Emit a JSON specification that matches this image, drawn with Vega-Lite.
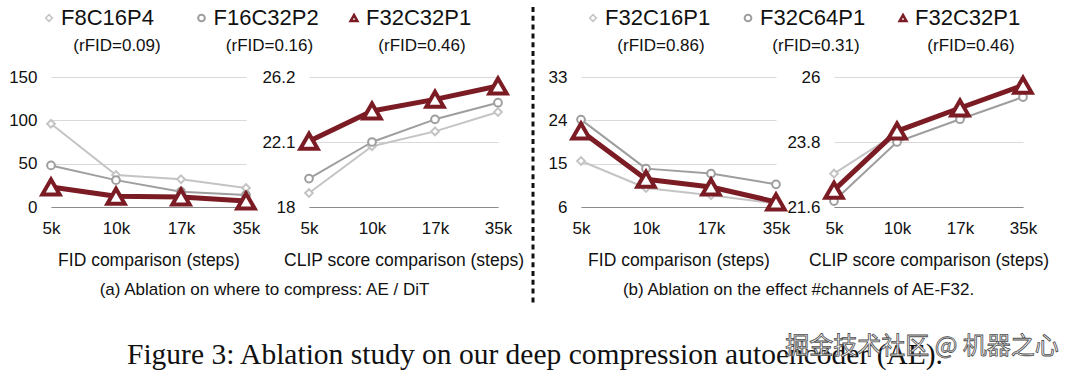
{
  "$schema": "https://vega.github.io/schema/vega-lite/v6.json",
  "background": "white",
  "padding": {"left": 8, "top": 0, "right": 0, "bottom": 0},
  "bounds": "flush",
  "align": "each",
  "columns": 5,
  "spacing": 0,
  "datasets": {
    "left": [
      {"step": "5k", "series": "F8C16P4", "fid": 96, "clip": 18.88},
      {"step": "10k", "series": "F8C16P4", "fid": 37, "clip": 21.83},
      {"step": "17k", "series": "F8C16P4", "fid": 32, "clip": 22.77},
      {"step": "35k", "series": "F8C16P4", "fid": 22, "clip": 23.99},
      {"step": "5k", "series": "F16C32P2", "fid": 48, "clip": 19.79},
      {"step": "10k", "series": "F16C32P2", "fid": 31, "clip": 22.1},
      {"step": "17k", "series": "F16C32P2", "fid": 17.7, "clip": 23.53},
      {"step": "35k", "series": "F16C32P2", "fid": 13.8, "clip": 24.58},
      {"step": "5k", "series": "F32C32P1", "fid": 23, "clip": 22.14},
      {"step": "10k", "series": "F32C32P1", "fid": 12.5, "clip": 24.06},
      {"step": "17k", "series": "F32C32P1", "fid": 11.5, "clip": 24.79},
      {"step": "35k", "series": "F32C32P1", "fid": 7, "clip": 25.63}
    ],
    "right": [
      {"step": "5k", "series": "F32C16P1", "fid": 15.55, "clip": 22.73},
      {"step": "10k", "series": "F32C16P1", "fid": 9.95, "clip": 24.1},
      {"step": "17k", "series": "F32C16P1", "fid": 8.43, "clip": 24.95},
      {"step": "35k", "series": "F32C16P1", "fid": 6.7, "clip": 25.7},
      {"step": "5k", "series": "F32C64P1", "fid": 24.15, "clip": 21.8},
      {"step": "10k", "series": "F32C64P1", "fid": 13.97, "clip": 23.8},
      {"step": "17k", "series": "F32C64P1", "fid": 12.94, "clip": 24.57},
      {"step": "35k", "series": "F32C64P1", "fid": 10.71, "clip": 25.32},
      {"step": "5k", "series": "F32C32P1", "fid": 21.8, "clip": 22.17},
      {"step": "10k", "series": "F32C32P1", "fid": 11.75, "clip": 24.17},
      {"step": "17k", "series": "F32C32P1", "fid": 10.15, "clip": 24.95},
      {"step": "35k", "series": "F32C32P1", "fid": 7.05, "clip": 25.72}
    ],
    "legendLeft": [
      {"series": "F8C16P4", "rfid": "(rFID=0.09)"},
      {"series": "F16C32P2", "rfid": "(rFID=0.16)"},
      {"series": "F32C32P1", "rfid": "(rFID=0.46)"}
    ],
    "legendRight": [
      {"series": "F32C16P1", "rfid": "(rFID=0.86)"},
      {"series": "F32C64P1", "rfid": "(rFID=0.31)"},
      {"series": "F32C32P1", "rfid": "(rFID=0.46)"}
    ],
    "empty": []
  },
  "resolve": {"scale": {"x": "independent", "y": "independent", "color": "independent", "shape": "independent", "size": "independent", "strokeWidth": "independent"}},
  "concat": [
    {
      "width": 258, "height": 77,
      "data": {"name": "legendLeft"},
      "encoding": {
        "x": {"field": "series", "type": "nominal", "scale": {"type": "point", "domain": ["F8C16P4", "F16C32P2", "F32C32P1"], "range": [-2, 303], "padding": 0}, "axis": null}
      },
      "layer": [
        {
          "mark": {"type": "point", "filled": false, "fill": "white", "opacity": 1},
          "encoding": {
            "y": {"datum": "name", "type": "nominal", "scale": {"type": "point", "domain": ["name", "rfid"], "range": [18, 46], "padding": 0}, "axis": null},
            "shape": {"field": "series", "type": "nominal", "scale": {"domain": ["F8C16P4", "F16C32P2", "F32C32P1"], "range": ["diamond", "circle", "triangle-up"]}, "legend": null},
            "color": {"field": "series", "type": "nominal", "scale": {"domain": ["F8C16P4", "F16C32P2", "F32C32P1"], "range": ["#c4c4c4", "#9e9e9e", "#7b1c24"]}, "legend": null},
            "size": {"field": "series", "type": "nominal", "scale": {"domain": ["F8C16P4", "F16C32P2", "F32C32P1"], "range": [45, 45, 190]}, "legend": null},
            "strokeWidth": {"field": "series", "type": "nominal", "scale": {"domain": ["F8C16P4", "F16C32P2", "F32C32P1"], "range": [1.5, 2.5, 6]}, "legend": null}
          }
        },
        {
          "mark": {"type": "text", "align": "left", "baseline": "middle", "dx": 12, "fontSize": 22, "color": "#111"},
          "encoding": {"y": {"datum": "name", "type": "nominal"}, "text": {"field": "series"}}
        },
        {
          "mark": {"type": "text", "align": "center", "baseline": "middle", "dx": 68, "fontSize": 17, "color": "#111"},
          "encoding": {"y": {"datum": "rfid", "type": "nominal"}, "text": {"field": "rfid"}}
        }
      ]
    },
    {"width": 224, "height": 77, "data": {"name": "empty"}, "mark": "point"},
    {"width": 48, "height": 77, "data": {"name": "empty"}, "mark": "point"},
    {
      "width": 253, "height": 77,
      "data": {"name": "legendRight"},
      "encoding": {
        "x": {"field": "series", "type": "nominal", "scale": {"type": "point", "domain": ["F32C16P1", "F32C64P1", "F32C32P1"], "range": [12, 322], "padding": 0}, "axis": null}
      },
      "layer": [
        {
          "mark": {"type": "point", "filled": false, "fill": "white", "opacity": 1},
          "encoding": {
            "y": {"datum": "name", "type": "nominal", "scale": {"type": "point", "domain": ["name", "rfid"], "range": [18, 46], "padding": 0}, "axis": null},
            "shape": {"field": "series", "type": "nominal", "scale": {"domain": ["F32C16P1", "F32C64P1", "F32C32P1"], "range": ["diamond", "circle", "triangle-up"]}, "legend": null},
            "color": {"field": "series", "type": "nominal", "scale": {"domain": ["F32C16P1", "F32C64P1", "F32C32P1"], "range": ["#c4c4c4", "#9e9e9e", "#7b1c24"]}, "legend": null},
            "size": {"field": "series", "type": "nominal", "scale": {"domain": ["F32C16P1", "F32C64P1", "F32C32P1"], "range": [45, 45, 190]}, "legend": null},
            "strokeWidth": {"field": "series", "type": "nominal", "scale": {"domain": ["F32C16P1", "F32C64P1", "F32C32P1"], "range": [1.5, 2.5, 6]}, "legend": null}
          }
        },
        {
          "mark": {"type": "text", "align": "left", "baseline": "middle", "dx": 12, "fontSize": 22, "color": "#111"},
          "encoding": {"y": {"datum": "name", "type": "nominal"}, "text": {"field": "series"}}
        },
        {
          "mark": {"type": "text", "align": "center", "baseline": "middle", "dx": 68, "fontSize": 17, "color": "#111"},
          "encoding": {"y": {"datum": "rfid", "type": "nominal"}, "text": {"field": "rfid"}}
        }
      ]
    },
    {"width": 189, "height": 77, "data": {"name": "empty"}, "mark": "point"},

    {
      "width": 258, "height": 130,
      "data": {"name": "left"},
      "encoding": {
        "x": {"field": "step", "type": "ordinal", "scale": {"type": "point", "domain": ["5k", "10k", "17k", "35k"], "range": [0, 195], "padding": 0}, "axis": {"title": "FID comparison (steps)"}},
        "y": {"field": "fid", "type": "quantitative", "scale": {"domain": [0, 150], "nice": false, "zero": false}, "axis": {"values": [0, 50, 100, 150], "title": null}}
      },
      "layer": [
        {"transform": [{"filter": "datum.series != 'F32C32P1'"}], "mark": {"type": "line", "strokeWidth": 2, "strokeJoin": "round"},
         "encoding": {"color": {"field": "series", "type": "nominal", "scale": {"domain": ["F8C16P4", "F16C32P2"], "range": ["#c4c4c4", "#9e9e9e"]}, "legend": null}}},
        {"transform": [{"filter": "datum.series != 'F32C32P1'"}], "mark": {"type": "point", "filled": false, "fill": "white", "opacity": 1, "strokeWidth": 2, "size": 60},
         "encoding": {"color": {"field": "series", "type": "nominal", "legend": null}, "shape": {"field": "series", "type": "nominal", "scale": {"domain": ["F8C16P4", "F16C32P2"], "range": ["diamond", "circle"]}, "legend": null}}},
        {"transform": [{"filter": "datum.series == 'F32C32P1'"}], "mark": {"type": "line", "strokeWidth": 5, "strokeJoin": "round", "color": "#7b1c24"}},
        {"transform": [{"filter": "datum.series == 'F32C32P1'"}], "mark": {"type": "point", "shape": "triangle-up", "filled": false, "fill": "white", "opacity": 1, "strokeWidth": 4, "size": 300, "color": "#7b1c24"}}
      ]
    },
    {
      "width": 224, "height": 130,
      "data": {"name": "left"},
      "encoding": {
        "x": {"field": "step", "type": "ordinal", "scale": {"type": "point", "domain": ["5k", "10k", "17k", "35k"], "range": [0, 189], "padding": 0}, "axis": {"title": "CLIP score comparison (steps)"}},
        "y": {"field": "clip", "type": "quantitative", "scale": {"domain": [18, 26.2], "nice": false, "zero": false}, "axis": {"values": [18, 22.1, 26.2], "labelExpr": "format(datum.value, '~g')", "title": null}}
      },
      "layer": [
        {"transform": [{"filter": "datum.series != 'F32C32P1'"}], "mark": {"type": "line", "strokeWidth": 2, "strokeJoin": "round"},
         "encoding": {"color": {"field": "series", "type": "nominal", "scale": {"domain": ["F8C16P4", "F16C32P2"], "range": ["#c4c4c4", "#9e9e9e"]}, "legend": null}}},
        {"transform": [{"filter": "datum.series != 'F32C32P1'"}], "mark": {"type": "point", "filled": false, "fill": "white", "opacity": 1, "strokeWidth": 2, "size": 60},
         "encoding": {"color": {"field": "series", "type": "nominal", "legend": null}, "shape": {"field": "series", "type": "nominal", "scale": {"domain": ["F8C16P4", "F16C32P2"], "range": ["diamond", "circle"]}, "legend": null}}},
        {"transform": [{"filter": "datum.series == 'F32C32P1'"}], "mark": {"type": "line", "strokeWidth": 5, "strokeJoin": "round", "color": "#7b1c24"}},
        {"transform": [{"filter": "datum.series == 'F32C32P1'"}], "mark": {"type": "point", "shape": "triangle-up", "filled": false, "fill": "white", "opacity": 1, "strokeWidth": 4, "size": 300, "color": "#7b1c24"}}
      ]
    },
    {
      "width": 48, "height": 130,
      "data": {"values": [{"k": 1}]},
      "mark": {"type": "rule", "strokeDash": [5, 3.8], "strokeWidth": 3, "color": "#111"},
      "encoding": {
        "x": {"datum": 0, "type": "quantitative", "scale": {"domain": [0, 1]}, "axis": null},
        "y": {"datum": 0, "type": "quantitative", "scale": {"domain": [0, 1], "range": [-70, 228]}, "axis": null},
        "y2": {"datum": 1}
      }
    },
    {
      "width": 253, "height": 130,
      "data": {"name": "right"},
      "encoding": {
        "x": {"field": "step", "type": "ordinal", "scale": {"type": "point", "domain": ["5k", "10k", "17k", "35k"], "range": [0, 195], "padding": 0}, "axis": {"title": "FID comparison (steps)"}},
        "y": {"field": "fid", "type": "quantitative", "scale": {"domain": [6, 33], "nice": false, "zero": false}, "axis": {"values": [6, 15, 24, 33], "title": null}}
      },
      "layer": [
        {"transform": [{"filter": "datum.series != 'F32C32P1'"}], "mark": {"type": "line", "strokeWidth": 2, "strokeJoin": "round"},
         "encoding": {"color": {"field": "series", "type": "nominal", "scale": {"domain": ["F32C16P1", "F32C64P1"], "range": ["#c4c4c4", "#9e9e9e"]}, "legend": null}}},
        {"transform": [{"filter": "datum.series != 'F32C32P1'"}], "mark": {"type": "point", "filled": false, "fill": "white", "opacity": 1, "strokeWidth": 2, "size": 60},
         "encoding": {"color": {"field": "series", "type": "nominal", "legend": null}, "shape": {"field": "series", "type": "nominal", "scale": {"domain": ["F32C16P1", "F32C64P1"], "range": ["diamond", "circle"]}, "legend": null}}},
        {"transform": [{"filter": "datum.series == 'F32C32P1'"}], "mark": {"type": "line", "strokeWidth": 5, "strokeJoin": "round", "color": "#7b1c24"}},
        {"transform": [{"filter": "datum.series == 'F32C32P1'"}], "mark": {"type": "point", "shape": "triangle-up", "filled": false, "fill": "white", "opacity": 1, "strokeWidth": 4, "size": 300, "color": "#7b1c24"}}
      ]
    },
    {
      "width": 189, "height": 130,
      "data": {"name": "right"},
      "encoding": {
        "x": {"field": "step", "type": "ordinal", "scale": {"type": "point", "domain": ["5k", "10k", "17k", "35k"], "range": [0, 189], "padding": 0}, "axis": {"title": "CLIP score comparison (steps)"}},
        "y": {"field": "clip", "type": "quantitative", "scale": {"domain": [21.6, 26], "nice": false, "zero": false}, "axis": {"values": [21.6, 23.8, 26], "labelExpr": "format(datum.value, '~g')", "title": null}}
      },
      "layer": [
        {"transform": [{"filter": "datum.series != 'F32C32P1'"}], "mark": {"type": "line", "strokeWidth": 2, "strokeJoin": "round"},
         "encoding": {"color": {"field": "series", "type": "nominal", "scale": {"domain": ["F32C16P1", "F32C64P1"], "range": ["#c4c4c4", "#9e9e9e"]}, "legend": null}}},
        {"transform": [{"filter": "datum.series != 'F32C32P1'"}], "mark": {"type": "point", "filled": false, "fill": "white", "opacity": 1, "strokeWidth": 2, "size": 60},
         "encoding": {"color": {"field": "series", "type": "nominal", "legend": null}, "shape": {"field": "series", "type": "nominal", "scale": {"domain": ["F32C16P1", "F32C64P1"], "range": ["diamond", "circle"]}, "legend": null}}},
        {"transform": [{"filter": "datum.series == 'F32C32P1'"}], "mark": {"type": "line", "strokeWidth": 5, "strokeJoin": "round", "color": "#7b1c24"}},
        {"transform": [{"filter": "datum.series == 'F32C32P1'"}], "mark": {"type": "point", "shape": "triangle-up", "filled": false, "fill": "white", "opacity": 1, "strokeWidth": 4, "size": 300, "color": "#7b1c24"}}
      ]
    },

    {
      "width": 258, "height": 166,
      "data": {"values": [{"t": "(a) Ablation on where to compress: AE / DiT"}]},
      "mark": {"type": "text", "fontSize": 17, "color": "#111", "baseline": "middle", "dx": 84.5},
      "encoding": {"text": {"field": "t"}}
    },
    {"width": 224, "height": 166, "data": {"name": "empty"}, "mark": "point"},
    {"width": 48, "height": 166, "data": {"name": "empty"}, "mark": "point"},
    {
      "width": 253, "height": 166,
      "data": {"values": [{"t": "(b) Ablation on the effect #channels of AE-F32."}]},
      "mark": {"type": "text", "fontSize": 17, "color": "#111", "baseline": "middle", "dx": 91},
      "encoding": {"text": {"field": "t"}}
    },
    {"width": 189, "height": 166, "data": {"name": "empty"}, "mark": "point"},

    {
      "width": 258, "height": 2,
      "data": {"values": [{"t": "Figure 3: Ablation study on our deep compression autoencoder (AE).", "w": "掘金技术社区 @ 机器之心"}]},
      "layer": [
        {"mark": {"type": "text", "font": "Liberation Serif", "fontSize": 29.5, "color": "#111", "baseline": "middle", "dx": 355, "dy": -19}, "encoding": {"text": {"field": "t"}}},
        {"mark": {"type": "text", "font": "Noto Sans CJK SC", "fontSize": 24, "fill": "#f6f6f6", "stroke": "#4d4d4d", "strokeWidth": 0.8, "baseline": "middle", "dx": 742, "dy": -27}, "encoding": {"text": {"field": "w"}}}
      ]
    }
  ],
  "config": {
    "view": {"stroke": null},
    "font": "Liberation Sans",
    "axis": {"labelFont": "Liberation Sans", "titleFont": "Liberation Sans", "labelFontSize": 17, "titleFontSize": 17.5, "titleFontWeight": "normal", "labelColor": "#111", "titleColor": "#111", "ticks": false, "domain": false, "gridColor": "#d9d9d9", "gridWidth": 1},
    "axisX": {"grid": false, "domain": true, "domainColor": "#8a8a8a", "domainWidth": 1.2, "labelPadding": 13, "titlePadding": 15, "labelAngle": 0},
    "axisY": {"grid": true, "labelPadding": 14}
  }
}
